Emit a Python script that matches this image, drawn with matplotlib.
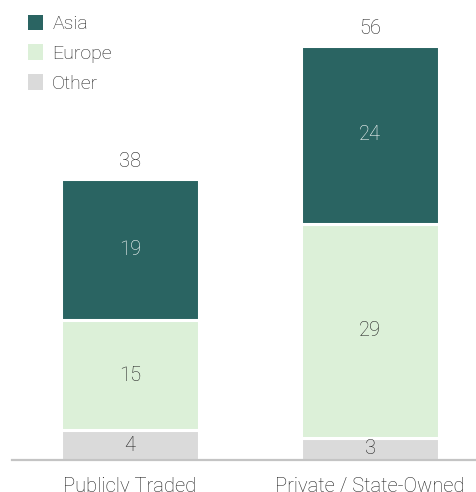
import numpy as np
import matplotlib.pyplot as plt
from matplotlib.patches import Patch

plt.rcParams['font.family'] = ['Roboto', 'DejaVu Sans']
plt.rcParams['font.weight'] = 'light'

# counts per ownership type, stacked by region
categories = ['Publicly Traded', 'Private / State-Owned']
other = [4, 3]
europe = [15, 29]
asia = [19, 24]

colors = {'Asia': '#2a6462', 'Europe': '#dcf0d8', 'Other': '#dadada'}
text_dark = '#222222'

W, H = 476, 492
fig = plt.figure(figsize=(W / 100, H / 100), dpi=100)
ax = fig.add_axes([12 / W, 32 / H, 464 / W, 460 / H])

x = np.arange(len(categories))
width = 0.571
other = np.array(other)
europe = np.array(europe)
asia = np.array(asia)
totals = other + europe + asia

bottom = np.zeros(len(categories))
for vals, name, tc in [(other, 'Other', text_dark),
                       (europe, 'Europe', text_dark),
                       (asia, 'Asia', 'white')]:
    ax.bar(x, vals, width, bottom=bottom, color=colors[name],
           edgecolor='white', linewidth=2.2, label=name)
    for xi, b, v in zip(x, bottom, vals):
        ax.text(xi, b + v / 2, str(v), ha='center', va='center',
                color=tc, fontsize=14.5)
    bottom = bottom + vals

# totals above each stack
for xi, t in zip(x, totals):
    ax.annotate(str(t), (xi, t), xytext=(0, 9), textcoords='offset points',
                ha='center', va='baseline', color=text_dark, fontsize=14.5)

ax.set_xlim(-118 / 240, 1 + 106 / 240)
ax.set_ylim(0, 460 / 7.39)
ax.set_xticks(x)
ax.set_xticklabels(categories, fontsize=14.5, color=text_dark)
ax.tick_params(axis='x', length=0, pad=12)
ax.set_yticks([])
for s in ['top', 'right', 'left']:
    ax.spines[s].set_visible(False)
ax.spines['bottom'].set_color('#c4c4c4')
ax.spines['bottom'].set_linewidth(1.6)

handles = [Patch(facecolor=colors[n], edgecolor='none', label=n)
           for n in ['Asia', 'Europe', 'Other']]
fig.legend(handles=handles, loc='upper left', bbox_to_anchor=(10 / W, 1 + 3 / H),
           frameon=False, fontsize=14, handlelength=0.82, handleheight=0.82,
           handletextpad=0.45, labelspacing=0.6, labelcolor=text_dark)

# chart heading, sitting above the visible area
fig.text(150 / W, 1 + 7 / H, 'Number of companies by type and region',
         color='#5fb3a8', fontsize=15, ha='left', va='baseline')

fig.savefig('out.png', dpi=100)
